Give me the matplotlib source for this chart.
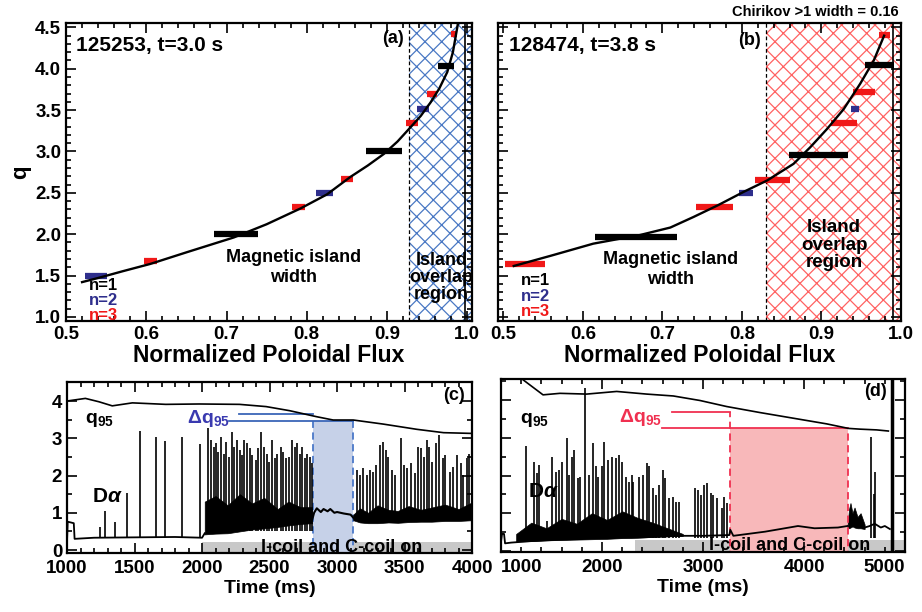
import numpy as np
import matplotlib.pyplot as plt
from matplotlib.ticker import MultipleLocator

plt.rcParams['font.family'] = ['Liberation Sans', 'DejaVu Sans']
plt.rcParams['font.weight'] = 'bold'
plt.rcParams['mathtext.fontset'] = 'custom'
plt.rcParams['mathtext.rm'] = 'Liberation Sans:bold'
plt.rcParams['mathtext.bf'] = 'Liberation Sans:bold'
plt.rcParams['mathtext.it'] = 'Liberation Sans:italic'
plt.rcParams['hatch.linewidth'] = 0.9

# ---- panel (a): q profile, 125253 t=3.0 s
a_curve_x = [0.520, 0.540, 0.570, 0.605, 0.650, 0.709, 0.750, 0.792, 0.825, 0.854,
             0.876, 0.896, 0.913, 0.929, 0.942, 0.954, 0.965, 0.975, 0.982, 0.988]
a_curve_q = [1.42, 1.47, 1.55, 1.64, 1.78, 1.96, 2.12, 2.31, 2.48, 2.69,
             2.83, 2.97, 3.12, 3.29, 3.43, 3.59, 3.76, 3.96, 4.20, 4.53]
a_q = [1.50, 1.67, 2.00, 2.33, 2.50, 2.67, 3.00, 3.35, 3.51, 3.70, 4.03, 4.42]
a_x0 = [0.524, 0.597, 0.684, 0.782, 0.811, 0.842, 0.874, 0.923, 0.937, 0.950, 0.963, 0.980]
a_x1 = [0.551, 0.613, 0.739, 0.798, 0.833, 0.858, 0.918, 0.938, 0.952, 0.962, 0.984, 0.987]
a_n = [2, 3, 1, 3, 2, 3, 1, 3, 2, 3, 1, 3]
a_overlap = 0.927
a_edge = 0.997

# ---- panel (b): q profile, 128474 t=3.8 s
b_curve_x = [0.513, 0.560, 0.613, 0.672, 0.710, 0.739, 0.770, 0.802, 0.832, 0.865,
             0.886, 0.907, 0.928, 0.949, 0.966, 0.979]
b_curve_q = [1.615, 1.74, 1.885, 1.99, 2.08, 2.207, 2.35, 2.51, 2.65, 2.85,
             3.05, 3.27, 3.51, 3.82, 4.10, 4.40]
b_q = [1.64, 1.97, 2.33, 2.50, 2.66, 2.96, 3.35, 3.51, 3.72, 4.04, 4.41]
b_x0 = [0.502, 0.615, 0.742, 0.797, 0.816, 0.859, 0.912, 0.937, 0.940, 0.955, 0.973]
b_x1 = [0.552, 0.718, 0.789, 0.814, 0.860, 0.933, 0.945, 0.947, 0.968, 0.991, 0.987]
b_n = [3, 1, 3, 2, 3, 1, 3, 2, 3, 1, 3]
b_overlap = 0.831
b_edge = 0.990

n_colors = {1: 'black', 2: '#2e2e8c', 3: '#f01818'}

# ---- panel (c): shot 125253 time traces
c_q95_t = [1000, 1136, 1236, 1335, 1484, 1731, 1979, 2277, 2475, 2649, 2847, 2971,
           3120, 3343, 3591, 3789, 4000]
c_q95 = [4.00, 4.07, 3.98, 3.87, 3.95, 3.91, 3.92, 3.91, 3.85, 3.74, 3.58, 3.49,
         3.49, 3.38, 3.24, 3.15, 3.13]
c_da_t = [1000, 1005, 1050, 1056, 1200, 1500, 1800, 2000, 2020]
c_da = [0.25, 0.76, 0.72, 0.30, 0.33, 0.34, 0.35, 0.33, 0.45]
c_sup_t = [2815, 2830, 2850, 2880, 2900, 2930, 2950, 2980, 3000, 3050, 3100, 3125]
c_sup = [0.80, 1.00, 1.12, 1.02, 1.10, 1.04, 1.10, 1.00, 1.02, 0.98, 0.95, 0.85]
c_band1_t = [2020, 2100, 2190, 2280, 2370, 2460, 2560, 2640, 2730, 2815]
c_band1_lo = [0.42, 0.44, 0.45, 0.50, 0.55, 0.58, 0.62, 0.66, 0.70, 0.72]
c_band1_hi = [1.30, 1.45, 1.20, 1.50, 1.25, 1.40, 1.10, 1.30, 1.15, 1.15]
c_band2_t = [3120, 3170, 3230, 3300, 3380, 3450, 3530, 3620, 3700, 3800, 3900, 4000]
c_band2_lo = [0.80, 0.74, 0.72, 0.72, 0.74, 0.73, 0.75, 0.76, 0.76, 0.78, 0.78, 0.80]
c_band2_hi = [0.95, 1.12, 1.00, 1.20, 1.08, 1.05, 1.18, 1.08, 1.14, 1.22, 1.10, 1.28]
c_spk_pre_t = [1243, 1280, 1354, 1443, 1542, 1661, 1728, 1852, 1985]
c_spk_pre = [0.63, 1.05, 0.76, 1.52, 3.19, 3.04, 2.93, 3.03, 2.84]
c_spk1_t = [2047, 2067, 2087, 2107, 2121, 2141, 2161, 2178, 2198, 2220, 2240, 2260,
            2280, 2297, 2314, 2334, 2354, 2371, 2396, 2413, 2438, 2458, 2478, 2493,
            2517, 2537, 2557, 2582, 2599, 2619, 2643, 2669, 2686, 2703, 2723, 2743,
            2760, 2780, 2802, 2814]
c_spk1 = [3.28, 2.95, 2.77, 2.86, 2.64, 3.04, 2.59, 2.91, 2.50, 3.18, 2.77, 2.95,
          2.68, 2.55, 2.95, 2.86, 2.73, 2.55, 2.41, 2.73, 3.18, 2.77, 2.59, 2.37,
          2.95, 2.46, 2.59, 2.77, 2.64, 2.46, 2.50, 2.95, 2.77, 2.86, 2.59, 2.77,
          2.46, 2.59, 2.50, 2.33]
c_spk2_t = [3148, 3168, 3193, 3223, 3243, 3267, 3292, 3317, 3342, 3361, 3379, 3404,
            3428, 3471, 3495, 3520, 3547, 3577, 3601, 3619, 3646, 3664, 3683, 3705,
            3733, 3757, 3783, 3802, 3837, 3862, 3891, 3916, 3936, 3961, 3980, 3998]
c_spk2 = [2.15, 2.01, 2.19, 2.01, 2.15, 2.10, 2.28, 2.82, 2.91, 2.68, 2.50, 2.15,
          2.01, 3.00, 2.28, 2.19, 2.33, 2.06, 2.77, 2.73, 2.50, 2.95, 2.77, 2.37,
          2.86, 3.09, 2.46, 2.55, 2.10, 2.24, 2.55, 2.33, 2.01, 2.46, 2.59, 2.64]
c_win = [2822, 3120]
c_dq_hi = [2272, 2822, 3.64]
c_dq_lo = [2198, 3120, 3.47]
c_coil = [2000, 4000, 0.22]
c_xticks = [1000, 1500, 2000, 2500, 3000, 3500, 4000]

# ---- panel (d): shot 128474 time traces
d_q95_t = [1218, 1416, 1584, 1848, 2145, 2442, 2706, 2970, 3234, 3564, 3894, 4224,
           4439, 4554, 4719, 4835]
d_q95 = [4.54, 4.14, 4.18, 4.16, 4.23, 4.16, 4.11, 3.99, 3.83, 3.67, 3.52, 3.37,
         3.25, 3.23, 3.21, 3.18]
d_da_t = [1000, 1010, 1030, 1040, 1100, 1300, 1600, 2000, 2400, 2800, 3000, 3260,
          3270, 3300, 3614, 3940, 4104, 4336, 4430]
d_da = [0.25, 0.45, 0.45, 0.20, 0.22, 0.26, 0.30, 0.35, 0.36, 0.40, 0.40, 0.42,
        0.56, 0.40, 0.51, 0.66, 0.60, 0.62, 0.66]
d_band1_t = [1150, 1300, 1450, 1600, 1750, 1900, 2050, 2200, 2350, 2500, 2650, 2800]
d_band1_lo = [0.25, 0.26, 0.28, 0.29, 0.30, 0.31, 0.32, 0.34, 0.35, 0.37, 0.39, 0.40]
d_band1_hi = [0.45, 0.75, 0.60, 0.85, 0.72, 1.00, 0.82, 1.05, 0.88, 0.75, 0.60, 0.45]
d_band2_t = [4432, 4445, 4460, 4480, 4500, 4530, 4560, 4600]
d_band2_lo = [0.62, 0.60, 0.62, 0.65, 0.62, 0.60, 0.60, 0.58]
d_band2_hi = [0.70, 1.10, 1.27, 1.00, 1.15, 0.90, 1.00, 0.70]
d_tail_t = [4600, 4650, 4700, 4760, 4800, 4850]
d_tail = [0.62, 0.66, 0.72, 0.62, 0.66, 0.58]
d_spk_t = [1244, 1330, 1353, 1376, 1452, 1508, 1541, 1574, 1601, 1650, 1673, 1700,
           1726, 1759, 1782, 1832, 1874, 1908, 1938, 1963, 2003, 2020, 2063, 2102,
           2136, 2168, 2195, 2235, 2267, 2300, 2310, 2369, 2409, 2442, 2468, 2502,
           2535, 2568, 2601, 2624, 2667, 2700, 2733, 2766, 2921, 2954, 2977, 3010,
           3043, 3076, 3102, 3142, 3185, 3211, 3234, 4663, 4690, 4703]
d_spk = [2.77, 2.35, 2.06, 2.28, 0.78, 2.50, 2.10, 2.15, 2.35, 2.99, 2.01, 2.50,
         2.68, 1.93, 1.97, 4.31, 2.01, 2.86, 2.24, 1.97, 2.24, 2.90, 2.41, 2.50,
         2.46, 2.55, 2.37, 1.97, 1.84, 2.01, 1.84, 1.97, 2.01, 2.33, 2.24, 1.66,
         1.49, 1.75, 2.15, 1.93, 1.40, 1.44, 1.31, 1.31, 1.66, 1.62, 1.49, 1.75,
         1.79, 1.53, 1.49, 1.40, 1.13, 1.44, 1.26, 3.03, 1.50, 2.10]
d_end_t = 4868
d_win = [3267, 4432]
d_dq_hi = [2690, 3267, 3.68]
d_dq_lo = [2591, 4432, 3.27]
d_coil = [2327, 5000, 0.30]
d_xticks = [1000, 2000, 3000, 4000, 5000]

fig = plt.figure(figsize=(9.22, 6.12), dpi=100)
ax_a = fig.add_axes([0.0716, 0.4755, 0.4405, 0.4865])
ax_b = fig.add_axes([0.540, 0.4755, 0.437, 0.4865])
ax_c = fig.add_axes([0.0727, 0.0964, 0.4393, 0.2794])
ax_d = fig.add_axes([0.5434, 0.098, 0.4382, 0.2827])


def style(ax, xmaj, xmin, ymaj, ymin, size):
    ax.xaxis.set_major_locator(MultipleLocator(xmaj))
    ax.xaxis.set_minor_locator(MultipleLocator(xmin))
    ax.yaxis.set_major_locator(MultipleLocator(ymaj))
    ax.yaxis.set_minor_locator(MultipleLocator(ymin))
    ax.tick_params(which='both', direction='in', top=True, right=True, width=1.2,
                   labelsize=size)
    ax.tick_params(which='major', length=7)
    ax.tick_params(which='minor', length=3.5)
    for s in ax.spines.values():
        s.set_linewidth(1.6)


# (a) and (b)
for ax, cx, cq, qq, x0, x1, nn, ov, edge in [
        (ax_a, a_curve_x, a_curve_q, a_q, a_x0, a_x1, a_n, a_overlap, a_edge),
        (ax_b, b_curve_x, b_curve_q, b_q, b_x0, b_x1, b_n, b_overlap, b_edge)]:
    hcol = '#4a78c4' if ax is ax_a else '#ff6262'
    ax.axvspan(ov, 1.02, facecolor='none', edgecolor=hcol, hatch='xx', lw=0, zorder=0)
    ax.axvline(ov, color='k', ls=(0, (3, 2)), lw=0.9, zorder=1)
    ax.axvline(edge, color='k', lw=1.2, zorder=1)
    for q, lo, hi, n in zip(qq, x0, x1, nn):
        ax.hlines(q, lo, hi, color=n_colors[n], lw=4.5, zorder=2)
    ax.plot(cx, cq, color='k', lw=1.7, zorder=3)
    ax.set_ylim(0.95, 4.55)
    style(ax, 0.1, 0.02, 0.5, 0.1, 13.5)
    ax.set_xlabel('Normalized Poloidal Flux', fontsize=16.5, fontweight='bold', labelpad=1)

ax_a.set_xlim(0.5, 1.006)
ax_b.set_xlim(0.493, 1.0)
ax_a.yaxis.set_major_formatter(plt.FormatStrFormatter('%.1f'))
ax_a.xaxis.set_major_formatter(plt.FormatStrFormatter('%.1f'))
ax_b.xaxis.set_major_formatter(plt.FormatStrFormatter('%.1f'))
ax_b.set_yticklabels([])
ax_a.set_ylabel('q', fontsize=16, fontweight='bold', labelpad=3)

ax_a.text(0.513, 4.28, '125253, t=3.0 s', fontsize=15, va='center')
ax_a.text(0.908, 4.36, '(a)', fontsize=13, ha='center', va='center')
ax_a.text(0.784, 1.60, 'Magnetic island\nwidth', fontsize=13, ha='center', va='center',
          linespacing=1.2)
ax_a.text(0.968, 1.48, 'Island\noverlap\nregion', fontsize=13, ha='center', va='center',
          linespacing=1.0, clip_on=True)
for n, y in zip([1, 2, 3], [1.38, 1.20, 1.02]):
    ax_a.text(0.529, y, 'n=%d' % n, color=n_colors[n], fontsize=12, va='center')

ax_b.text(0.507, 4.28, '128474, t=3.8 s', fontsize=15, va='center')
ax_b.text(0.81, 4.34, '(b)', fontsize=13, ha='center', va='center')
ax_b.text(0.710, 1.57, 'Magnetic island\nwidth', fontsize=13, ha='center', va='center',
          linespacing=1.2)
ax_b.text(0.916, 1.865, 'Island\noverlap\nregion', fontsize=13.5, ha='center', va='center',
          linespacing=1.05)
for n, y in zip([1, 2, 3], [1.44, 1.25, 1.06]):
    ax_b.text(0.522, y, 'n=%d' % n, color=n_colors[n], fontsize=12, va='center')
fig.text(0.975, 0.980, 'Chirikov >1 width = 0.16', fontsize=10.5, ha='right', va='center')

# (c)
ax = ax_c
ax.fill_between(c_coil[:2], -0.2, c_coil[2], color='#c8c8c8', lw=0, zorder=0)
ax.fill_between(c_win, -0.2, c_dq_lo[2], color='#c6d1e8', lw=0, zorder=0.5)
for t in c_win:
    ax.plot([t, t], [-0.2, c_dq_lo[2]], color='#4a78c8', ls=(0, (4, 2.5)), lw=1.3, zorder=1)
ax.plot(c_dq_hi[:2], [c_dq_hi[2]] * 2, color='#3a66b8', lw=1.3)
ax.plot(c_dq_lo[:2], [c_dq_lo[2]] * 2, color='#3a66b8', lw=1.3)
ax.plot(c_q95_t, c_q95, color='k', lw=1.2)
ax.plot(c_da_t, c_da, color='k', lw=1.3)
ax.plot(c_sup_t, c_sup, color='k', lw=1.5)
ax.fill_between(c_band1_t, c_band1_lo, c_band1_hi, color='k', lw=0.5)
ax.fill_between(c_band2_t, c_band2_lo, c_band2_hi, color='k', lw=0.5)
ax.vlines(c_spk_pre_t, 0.33, c_spk_pre, color='k', lw=1.2)
ax.vlines(c_spk1_t, 0.5, c_spk1, color='k', lw=1.2)
ax.vlines(c_spk2_t, 0.8, c_spk2, color='k', lw=1.2)
ax.set_xlim(1000, 4000)
ax.set_ylim(-0.08, 4.51)
style(ax, 500, 100, 1, 0.5, 13.5)
ax.tick_params(axis='x', pad=5)
ax.set_xticks(c_xticks)
ax.set_xlabel('Time (ms)', fontsize=14, fontweight='bold', labelpad=2)
ax.text(3033, 0.07, 'I-coil and C-coil on', fontsize=13, ha='center', va='center')
ax.text(1130, 3.5, r'q$_{95}$', fontsize=14, va='center')
ax.text(1186, 1.45, r'D$\alpha$', fontsize=15, va='center')
ax.text(2203, 3.52, r'$\Delta$q$_{95}$', fontsize=14, color='#3a3ab0', ha='right',
        va='center')
ax.text(3864, 4.15, '(c)', fontsize=13, ha='center', va='center')

# (d)
ax = ax_d
ax.fill_between(d_coil[:2], -0.2, d_coil[2], color='#c8c8c8', lw=0, zorder=0)
ax.fill_between(d_win, -0.2, d_dq_lo[2], color='#f8b8ba', lw=0, zorder=0.5)
ax.plot([d_win[0]] * 2, [-0.2, d_dq_hi[2]], color='#f03050', ls=(0, (4, 2.5)), lw=1.3)
ax.plot([d_win[1]] * 2, [-0.2, d_dq_lo[2]], color='#f03050', ls=(0, (4, 2.5)), lw=1.3)
ax.plot(d_dq_hi[:2], [d_dq_hi[2]] * 2, color='#f03050', lw=1.3)
ax.plot(d_dq_lo[:2], [d_dq_lo[2]] * 2, color='#f03050', lw=1.3)
ax.plot(d_q95_t, d_q95, color='k', lw=1.2)
ax.plot(d_da_t, d_da, color='k', lw=1.3)
ax.plot(d_tail_t, d_tail, color='k', lw=1.3)
ax.fill_between(d_band1_t, d_band1_lo, d_band1_hi, color='k', lw=0.5)
ax.fill_between(d_band2_t, d_band2_lo, d_band2_hi, color='k', lw=0.5)
ax.vlines(d_spk_t, 0.35, d_spk, color='k', lw=1.2)
ax.axvline(d_end_t, color='k', lw=2.5)
ax.set_xlim(1000, 5000)
ax.set_ylim(-0.03, 4.56)
style(ax, 1000, 200, 1, 0.5, 13.5)
ax.tick_params(axis='x', pad=5)
ax.set_xticks(d_xticks)
labs = ax.get_xticklabels()
labs[0].set_ha('left')
labs[-1].set_ha('right')
ax.set_yticklabels([])
ax.set_xlabel('Time (ms)', fontsize=14, fontweight='bold', labelpad=2)
ax.text(3861, 0.14, 'I-coil and C-coil on', fontsize=13, ha='center', va='center')
ax.text(1190, 3.47, r'q$_{95}$', fontsize=14, va='center')
ax.text(1267, 1.57, r'D$\alpha$', fontsize=15, va='center')
ax.text(2591, 3.53, r'$\Delta$q$_{95}$', fontsize=14, color='#f03050', ha='right',
        va='center')
ax.text(4703, 4.23, '(d)', fontsize=13, ha='center', va='center')

fig.savefig('out.png', dpi=100)
